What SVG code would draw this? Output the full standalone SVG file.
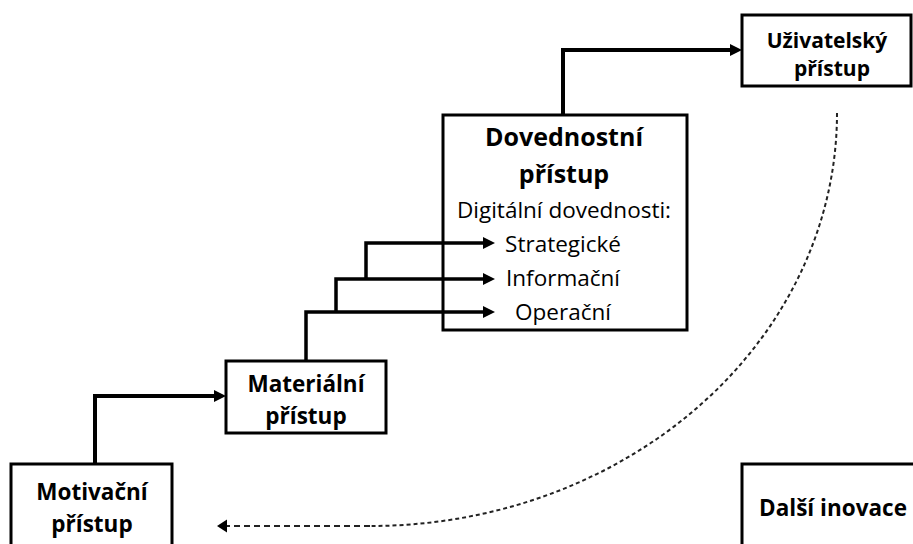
<svg xmlns="http://www.w3.org/2000/svg" width="913" height="544" viewBox="0 0 913 544">
  <style>
    .box { fill: #ffffff; stroke: #000000; stroke-width: 3; }
    .lbl { font-family: "Open Sans", "Liberation Sans", sans-serif; font-size: 22.5px; fill: #000000; text-anchor: middle; }
    .b { font-weight: bold; }
    .big { font-size: 25px; }
    .small { font-size: 21px; }
    .flow { fill: none; stroke: #000000; stroke-width: 4; }
    .thin { stroke-width: 3.5; }
    .back { fill: none; stroke: #222222; stroke-width: 2; }
  </style>
  <defs>
    <marker id="arrow" markerUnits="userSpaceOnUse" markerWidth="12" markerHeight="12" refX="0" refY="6" orient="auto" overflow="visible">
      <path d="M0,0 L12,6 L0,12 Z" fill="#000000"/>
    </marker>
    <marker id="arrowDash" markerUnits="userSpaceOnUse" markerWidth="10" markerHeight="13" refX="0" refY="6.5" orient="auto" overflow="visible">
      <path d="M0,0 L10,6.5 L0,13 Z" fill="#000000"/>
    </marker>
  </defs>

  <!-- connectors -->
  <g id="connectors">
    <path class="flow" d="M95,464 V396 H214" marker-end="url(#arrow)"/>
    <path class="flow thin" d="M306,361 V312 H483" marker-end="url(#arrow)"/>
    <path class="flow thin" d="M336,312 V279 H483" marker-end="url(#arrow)"/>
    <path class="flow thin" d="M366,279 V243 H483" marker-end="url(#arrow)"/>
    <path class="flow" d="M563,115 V50 H730" marker-end="url(#arrow)"/>
    <!-- return loop back to motivation -->
    <path class="back" d="M837,113 A467,413 0 0 1 370,526" stroke-dasharray="4 3"/>
    <path class="back" d="M370,526 H227" stroke-dasharray="6 4" marker-end="url(#arrowDash)"/>
  </g>

  <g id="motivacni">
    <rect class="box" x="11" y="464" width="161" height="100"/>
    <text class="lbl b" x="92" y="500">Motivační</text>
    <text class="lbl b" x="92" y="532">přístup</text>
  </g>

  <g id="materialni">
    <rect class="box" x="226" y="361" width="160" height="72"/>
    <text class="lbl b" x="306" y="392">Materiální</text>
    <text class="lbl b" x="306" y="424">přístup</text>
  </g>

  <g id="dovednostni">
    <rect class="box" x="443" y="115" width="244" height="215" style="fill:none"/>
    <text class="lbl b big" x="564" y="146">Dovednostní</text>
    <text class="lbl b big" x="564" y="183">přístup</text>
    <text class="lbl" x="564" y="218">Digitální dovednosti:</text>
    <text class="lbl" x="563" y="252">Strategické</text>
    <text class="lbl" x="563" y="286">Informační</text>
    <text class="lbl" x="563" y="320">Operační</text>
  </g>

  <g id="uzivatelsky">
    <rect class="box" x="742" y="15" width="169" height="71"/>
    <text class="lbl b small" x="827" y="48">Uživatelský</text>
    <text class="lbl b small" x="832" y="76">přístup</text>
  </g>

  <g id="dalsi-inovace">
    <rect class="box" x="742" y="464" width="200" height="100"/>
    <text class="lbl b" x="833" y="516">Další inovace</text>
  </g>
</svg>
